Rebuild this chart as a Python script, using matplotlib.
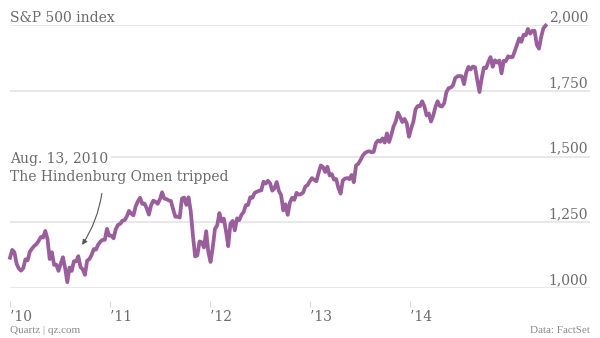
import matplotlib
matplotlib.use('Agg')
import matplotlib.pyplot as plt
from matplotlib.patches import FancyArrowPatch
import pandas as pd

plt.rcParams['font.family'] = ['DejaVu Serif']

# weekly S&P 500 closes, one list per year (Fridays)
spx_2010 = [1115, 1145, 1136, 1092, 1074, 1066, 1075, 1109, 1105, 1138,
            1150, 1160, 1167, 1179, 1194, 1192, 1217, 1187, 1110, 1136,
            1088, 1089, 1065, 1092, 1117, 1076, 1022, 1078, 1065, 1102,
            1101, 1121, 1079, 1071, 1050, 1104, 1110, 1125, 1148, 1146,
            1165, 1176, 1183, 1183, 1225, 1199, 1199, 1189, 1224, 1240,
            1244, 1256, 1258]
spx_2011 = [1272, 1293, 1283, 1276, 1310, 1329, 1343, 1320, 1321, 1304,
            1279, 1314, 1332, 1328, 1320, 1337, 1364, 1340, 1338, 1333,
            1331, 1300, 1271, 1271, 1268, 1340, 1344, 1316, 1345, 1292,
            1199, 1120, 1124, 1177, 1174, 1154, 1216, 1136, 1099, 1155,
            1225, 1238, 1285, 1253, 1264, 1216, 1159, 1244, 1255, 1219,
            1265, 1258]
spx_2012 = [1278, 1289, 1315, 1316, 1345, 1343, 1362, 1366, 1370, 1371,
            1404, 1397, 1408, 1398, 1370, 1379, 1403, 1369, 1353, 1295,
            1318, 1278, 1325, 1343, 1335, 1362, 1355, 1357, 1363, 1386,
            1391, 1406, 1418, 1411, 1406, 1438, 1466, 1460, 1441, 1461,
            1428, 1433, 1412, 1414, 1380, 1359, 1409, 1416, 1418, 1414,
            1430, 1402]
spx_2013 = [1466, 1472, 1486, 1503, 1513, 1518, 1520, 1516, 1518, 1551,
            1561, 1556, 1569, 1553, 1588, 1555, 1582, 1614, 1633, 1667,
            1650, 1631, 1643, 1626, 1575, 1606, 1632, 1680, 1692, 1691,
            1710, 1691, 1656, 1664, 1633, 1655, 1688, 1710, 1692, 1690,
            1703, 1745, 1760, 1762, 1771, 1798, 1805, 1806, 1805, 1775,
            1819, 1841]
spx_2014 = [1831, 1842, 1839, 1790, 1745, 1797, 1838, 1836, 1859, 1878,
            1841, 1866, 1857, 1865, 1816, 1864, 1863, 1881, 1878, 1878,
            1900, 1924, 1949, 1936, 1963, 1961, 1985, 1967, 1978, 1978,
            1925, 1910, 1955, 1988, 1998]

grid_values = [1000, 1250, 1500, 1750, 2000]
grid_labels = ['1,000', '1,250', '1,500', '1,750', '2,000']
tick_dates = ['2010-01-01', '2010-11-15', '2011-09-28', '2012-08-11', '2013-06-24']
tick_labels = ['\u201910', '\u201911', '\u201912', '\u201913', '\u201914']
omen_date = '2010-08-13'
omen_value = 1155

values = spx_2010 + spx_2011 + spx_2012 + spx_2013 + spx_2014
dates = pd.date_range('2010-01-01', periods=len(values), freq='7D')

purple = '#9a5e9c'
text_grey = '#6b6b6b'

fig = plt.figure(figsize=(6, 3.38), dpi=100)
ax = fig.add_axes([10 / 600, 50 / 338, 580 / 600, 263 / 338])

for v in grid_values:
    ax.axhline(v, color='#e4e4e4', lw=1.2, zorder=0)
for v, lab in zip(grid_values, grid_labels):
    ax.text(0.997, v + 15, lab, transform=ax.get_yaxis_transform(),
            ha='right', va='baseline', fontsize=10, color=text_grey)

ax.plot(dates, values, color=purple, lw=2.7, solid_joinstyle='round',
        clip_on=False, zorder=3)

ax.set_ylim(1000, 2000)
ax.set_xlim(pd.Timestamp('2010-01-01'), pd.Timestamp('2010-01-01') + pd.Timedelta(days=1842))

for s in ax.spines.values():
    s.set_visible(False)
ax.spines['bottom'].set_position(('outward', 9))
ax.set_yticks([])
ax.set_xticks(pd.to_datetime(tick_dates))
ax.set_xticklabels(tick_labels, ha='left', fontsize=10, color=text_grey)
ax.tick_params(axis='x', length=4, width=0.8, color='#d8d8d8', pad=3)

ax.text(0, 2000 + 11, 'S&P 500 index', transform=ax.get_yaxis_transform(),
        ha='left', va='baseline', fontsize=10, color=text_grey)

# annotation, each line on its own baseline
box = dict(facecolor='white', edgecolor='none', pad=2)
ax.text(0, 1475, 'Aug. 13, 2010', transform=ax.get_yaxis_transform(),
        ha='left', va='baseline', fontsize=10, color=text_grey, bbox=box, zorder=4)
ax.text(0, 1407, 'The Hindenburg Omen tripped', transform=ax.get_yaxis_transform(),
        ha='left', va='baseline', fontsize=10, color=text_grey, zorder=4)

arrow = FancyArrowPatch((pd.Timestamp('2010-10-21'), 1370),
                        (pd.Timestamp(omen_date), omen_value),
                        connectionstyle='arc3,rad=-0.12',
                        arrowstyle='-|>,head_length=3,head_width=1.5',
                        color='#555555', lw=0.8, zorder=5)
ax.add_patch(arrow)

fig.text(10 / 600, 5 / 338, 'Quartz | qz.com', fontsize=8, color='#8a8a8a',
         ha='left', va='baseline', family='Liberation Serif')
fig.text(590 / 600, 5 / 338, 'Data: FactSet', fontsize=8, color='#8a8a8a',
         ha='right', va='baseline', family='Liberation Serif')

fig.savefig('out.png', dpi=100)
